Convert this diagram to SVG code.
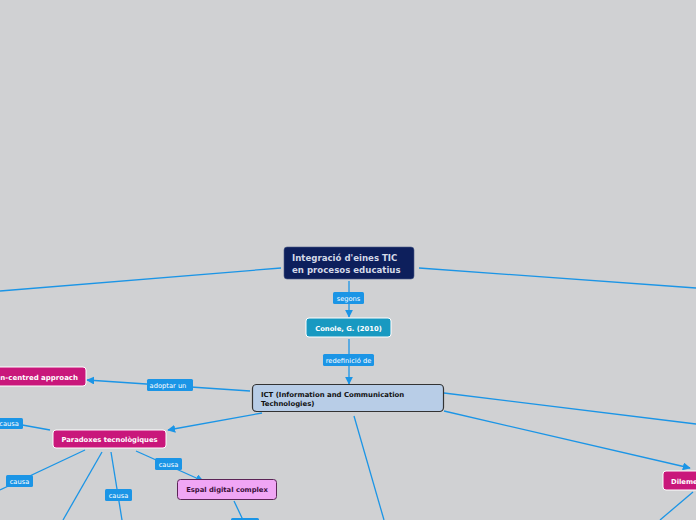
<svg xmlns="http://www.w3.org/2000/svg" width="696" height="520" viewBox="0 0 696 520">
<defs>
<marker id="arr" viewBox="0 0 10 10" refX="9" refY="5" markerWidth="8" markerHeight="8" markerUnits="userSpaceOnUse" orient="auto">
<path d="M0,0 L10,5 L0,10 z" fill="#1b95e6"/>
</marker>
<style>
.ln{stroke:#1b95e6;stroke-width:1.3;fill:none}
.lab rect{fill:#1b95e6}
.lab text{font-family:"DejaVu Sans",Verdana,sans-serif;font-size:6.7px;fill:#ffffff;text-anchor:middle}
.nt{font-family:"DejaVu Sans",Verdana,sans-serif;font-weight:bold}
.mag{fill:#c9177b;stroke:#ffffff;stroke-width:1}
</style>
</defs>
<rect width="696" height="520" fill="#d0d1d3"/>
<g id="connectors">
<line class="ln" x1="281" y1="268" x2="0" y2="291"/>
<line class="ln" x1="419" y1="268" x2="696" y2="288"/>
<line class="ln" x1="349" y1="281" x2="349" y2="317" marker-end="url(#arr)"/>
<line class="ln" x1="349" y1="339" x2="349" y2="384" marker-end="url(#arr)"/>
<line class="ln" x1="250" y1="391" x2="87" y2="380" marker-end="url(#arr)"/>
<line class="ln" x1="262" y1="413" x2="168" y2="430" marker-end="url(#arr)"/>
<line class="ln" x1="354" y1="416" x2="384" y2="520"/>
<line class="ln" x1="444" y1="393" x2="696" y2="424"/>
<line class="ln" x1="444" y1="411" x2="690" y2="468" marker-end="url(#arr)"/>
<line class="ln" x1="693" y1="492" x2="660" y2="520"/>
<line class="ln" x1="50" y1="430" x2="0" y2="421"/>
<line class="ln" x1="85" y1="450" x2="0" y2="490"/>
<line class="ln" x1="102" y1="452" x2="63" y2="520"/>
<line class="ln" x1="111" y1="452" x2="122" y2="520"/>
<line class="ln" x1="136" y1="451" x2="203" y2="481" marker-end="url(#arr)"/>
<line class="ln" x1="234" y1="501" x2="243" y2="520"/>
<g class="lab"><rect x="333" y="292" width="31" height="12" rx="1.5"/><text x="348.5" y="300.5">segons</text></g>
<g class="lab"><rect x="323" y="354" width="51" height="12" rx="1.5"/><text x="348.5" y="362.5">redefinició de</text></g>
<g class="lab"><rect x="147" y="379" width="46" height="12" rx="1.5"/><text x="168" y="387.5">adoptar un</text></g>
<g class="lab"><rect x="-6" y="418" width="29" height="11" rx="1.5"/><text x="9" y="426">causa</text></g>
<g class="lab"><rect x="6" y="475" width="27" height="12" rx="1.5"/><text x="19.5" y="483.5">causa</text></g>
<g class="lab"><rect x="105" y="489" width="27" height="12" rx="1.5"/><text x="118.5" y="497.5">causa</text></g>
<g class="lab"><rect x="155" y="458" width="27" height="12" rx="1.5"/><text x="168.5" y="466.5">causa</text></g>
<g class="lab"><rect x="231" y="518" width="28" height="12" rx="1.5"/></g>
</g>
<g id="main">
<rect x="284" y="247" width="130" height="32" rx="3" fill="#0d1f5c" stroke="#4a5a86" stroke-width="0.6"/>
<text class="nt" x="292" y="261" font-size="8.6" fill="#d3d9e8">Integració d'eines TIC</text>
<text class="nt" x="292" y="272.5" font-size="8.6" fill="#d3d9e8">en procesos educatius</text>
</g>
<g id="conole">
<rect x="306" y="318" width="85" height="19" rx="3" fill="#1899c1" stroke="#ffffff" stroke-width="1"/>
<text class="nt" x="348.5" y="330.5" font-size="6.8" fill="#ffffff" text-anchor="middle">Conole, G. (2010)</text>
</g>
<g id="ict">
<rect x="252.5" y="384.5" width="191" height="27" rx="4" fill="#b8cde7" stroke="#333333" stroke-width="1.2"/>
<text class="nt" x="261" y="397" font-size="6.9" fill="#111111">ICT (Information and Communication</text>
<text class="nt" x="261" y="405.5" font-size="6.9" fill="#111111">Technologies)</text>
</g>
<g id="student">
<rect class="mag" x="-30" y="367" width="116" height="19" rx="3"/>
<text class="nt" x="78" y="379.5" font-size="7" fill="#ffffff" text-anchor="end">n-centred approach</text>
</g>
<g id="paradoxes">
<rect class="mag" x="53" y="430" width="113" height="18" rx="3"/>
<text class="nt" x="109.5" y="442" font-size="6.8" fill="#ffffff" text-anchor="middle">Paradoxes tecnològiques</text>
</g>
<g id="espai">
<rect x="177.5" y="479.5" width="99" height="20" rx="3" fill="#f0a6f5" stroke="#5b2456" stroke-width="1"/>
<text class="nt" x="227" y="492" font-size="6.8" fill="#3a0f3a" text-anchor="middle">Espal digital complex</text>
</g>
<g id="dilemes">
<rect class="mag" x="663" y="471" width="60" height="19" rx="3"/>
<text class="nt" x="671" y="483.5" font-size="6.8" fill="#ffffff">Dilemes</text>
</g>
</svg>
